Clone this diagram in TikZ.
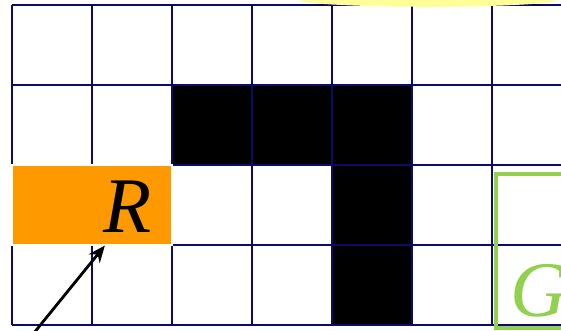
\documentclass[tikz,border=0pt]{standalone}
\usepackage{fontspec}
\setmainfont{Liberation Serif}
\usetikzlibrary{arrows.meta,positioning,calc}
\definecolor{Navy}{HTML}{0B0B6E}
\definecolor{Glow}{HTML}{FFFF99}
\definecolor{Amber}{HTML}{FF9900}
\definecolor{Leaf}{HTML}{92D050}
\tikzset{cellline/.style={draw=Navy,line width=1pt},
  wallcell/.style={fill=black},
  startbox/.style={fill=Amber,draw=white,line width=0.4pt,inner sep=0pt,
    minimum width=2cm,minimum height=1cm},
  goalbox/.style={draw=Leaf,line width=1.5pt,inner sep=0pt,
    minimum width=1.6cm,minimum height=1.93cm},
  letter/.style={font=\fontsize{28}{30}\selectfont\itshape,inner sep=0pt},
  pointer/.style={-{Stealth[length=6pt,width=5pt]},line width=1pt}}
\begin{document}
\begin{tikzpicture}[x=1cm,y=1cm]
  \clip (-0.15,0.0625) rectangle (6.8625,-4.075);
  \fill[white] (-0.15,0.0625) rectangle (6.8625,-4.075);
  % walls
  \foreach \c/\r in {2/1,3/1,4/1,4/2,4/3}
    \fill[wallcell] (\c,-\r) rectangle ++(1,-1);
  \draw[cellline] (0,-4) grid (7,0);
  \fill[Glow] (5.2,0.0625) ellipse (1.6cm and 0.085cm);
  % start and goal
  \node[startbox] (rbox) at (1,-2.5) {};
  \node[letter,anchor=base] (rlabel) at (1.44,-2.85) {R};
  \node[goalbox] (gbox) at (6.85,-3.075) {};
  \node[letter,text=Leaf,anchor=base west] (glabel) at (6.225,-3.9) {G};
  \coordinate (tail) at (0.225,-4.16);
  \draw[pointer] (tail) -- ($(rbox.south west)!0.58!(rbox.south east)$);
\end{tikzpicture}
\end{document}
